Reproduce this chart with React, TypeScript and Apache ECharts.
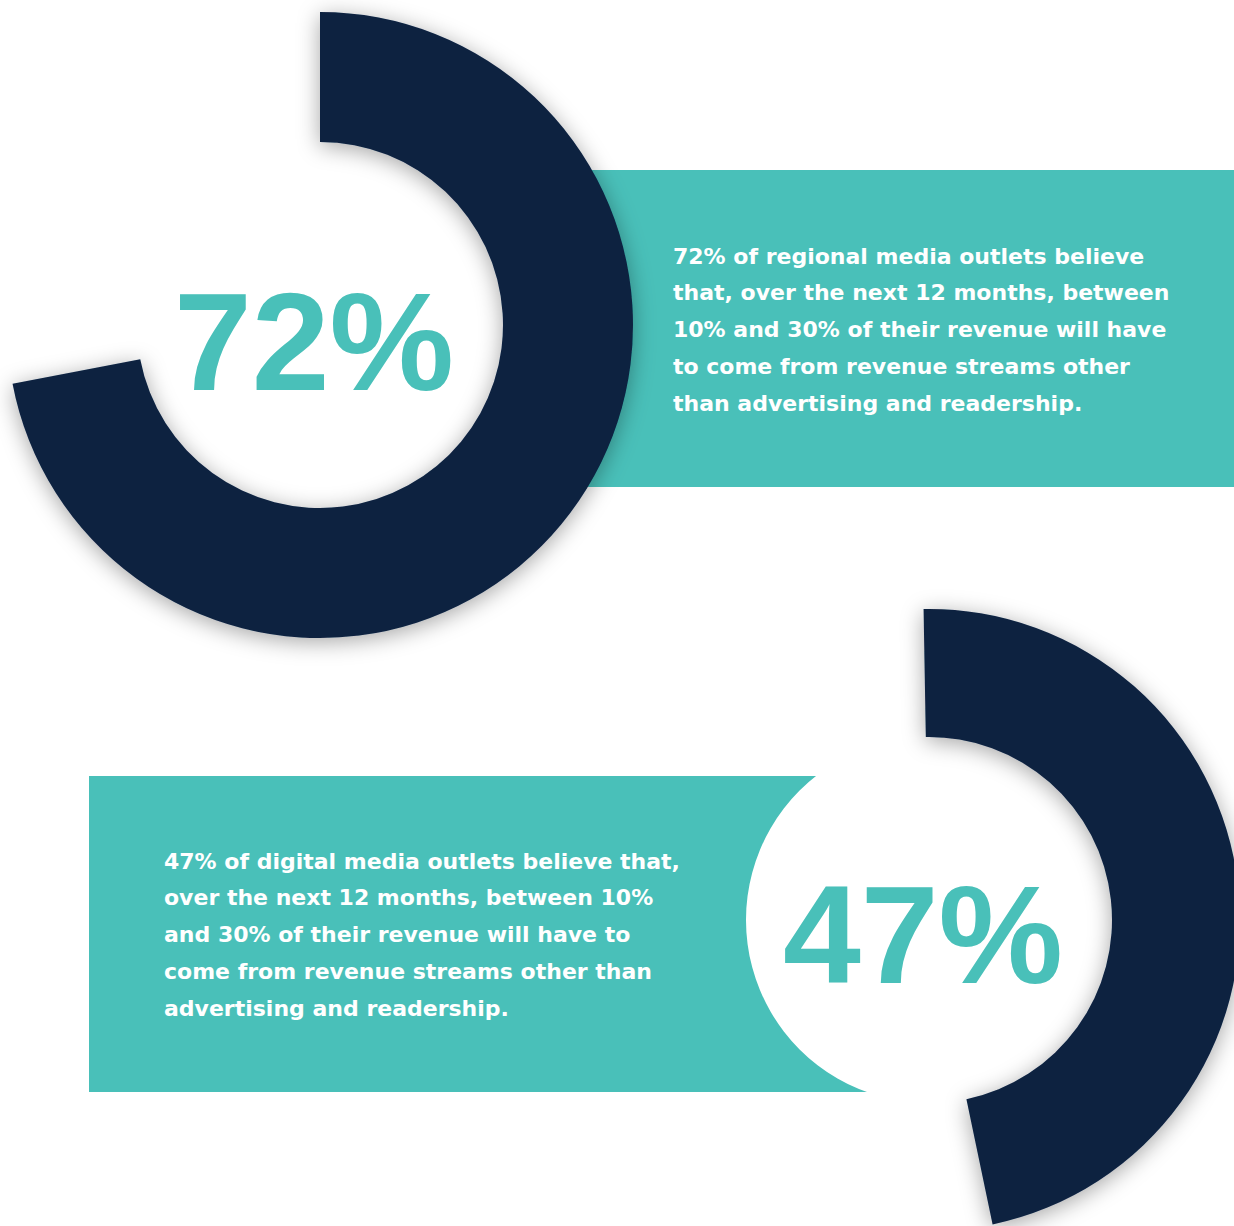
import React, { useEffect, useRef } from "react";
import * as echarts from "echarts";

const NAVY = "#0A2140";
const TEAL = "#49C0B9";

const percentages = [72, 47];
const bigLabels = ["72%", "47%"];
const paragraph1 = [
  "72% of regional media outlets believe",
  "that, over the next 12 months, between",
  "10% and 30% of their revenue will have",
  "to come from revenue streams other",
  "than advertising and readership.",
];
const paragraph2 = [
  "47% of digital media outlets believe that,",
  "over the next 12 months, between 10%",
  "and 30% of their revenue will have to",
  "come from revenue streams other than",
  "advertising and readership.",
];

const donuts = [
  { center: [320, 325], inner: 183, outer: 313, start: 90 },
  { center: [929, 920], inner: 183, outer: 311, start: 91 },
];

export default function App() {
  const ref = useRef<HTMLDivElement>(null);

  useEffect(() => {
    if (!ref.current) return;
    const chart = echarts.init(ref.current, undefined, { renderer: "svg" });

    const series: any[] = [];
    donuts.forEach((d, i) => {
      const v = percentages[i];
      series.push({
        type: "pie",
        center: d.center,
        radius: [d.inner, d.outer],
        startAngle: d.start,
        clockwise: true,
        silent: true,
        z: 3,
        label: { show: false },
        labelLine: { show: false },
        emphasis: { disabled: true },
        data: [
          {
            value: v,
            itemStyle: {
              color: NAVY,
              shadowBlur: 22,
              shadowColor: "rgba(0,0,0,0.35)",
              shadowOffsetX: 0,
              shadowOffsetY: 4,
            },
          },
          { value: 100 - v, itemStyle: { color: "rgba(0,0,0,0)" } },
        ],
      });
      series.push({
        type: "pie",
        center: d.center,
        radius: [0, d.inner],
        silent: true,
        z: 2,
        label: { show: false },
        labelLine: { show: false },
        emphasis: { disabled: true },
        data: [{ value: 1, itemStyle: { color: "#ffffff" } }],
      });
    });

    const paraFont = "DejaVu Sans";
    const lineElems = (lines: string[], x: number, y0: number) =>
      lines.map((t, k) => ({
        type: "text",
        x,
        y: y0 + k * 36.8,
        z: 100,
        silent: true,
        style: {
          text: t,
          fill: "#ffffff",
          font: `bold 22px "${paraFont}"`,
          align: "left",
          verticalAlign: "middle",
        },
      }));

    chart.setOption({
      animation: false,
      backgroundColor: "#ffffff",
      series,
      graphic: [
        {
          type: "rect",
          z: 0,
          silent: true,
          shape: { x: 560, y: 170, width: 700, height: 317 },
          style: { fill: TEAL },
        },
        {
          type: "rect",
          z: 0,
          silent: true,
          shape: { x: 89, y: 776, width: 841, height: 316 },
          style: { fill: TEAL },
        },
        {
          type: "text",
          x: 314,
          y: 341,
          z: 100,
          silent: true,
          style: {
            text: bigLabels[0],
            fill: TEAL,
            font: 'bold 140px "Liberation Sans"',
            align: "center",
            verticalAlign: "middle",
          },
        },
        {
          type: "text",
          x: 923,
          y: 934,
          z: 100,
          silent: true,
          style: {
            text: bigLabels[1],
            fill: TEAL,
            font: 'bold 140px "Liberation Sans"',
            align: "center",
            verticalAlign: "middle",
          },
        },
        ...lineElems(paragraph1, 673, 256),
        ...lineElems(paragraph2, 164, 861),
      ],
    });

    return () => chart.dispose();
  }, []);

  return (
    <div
      ref={ref}
      style={{ position: "absolute", left: 0, top: 0, width: 1234, height: 1226 }}
    />
  );
}
